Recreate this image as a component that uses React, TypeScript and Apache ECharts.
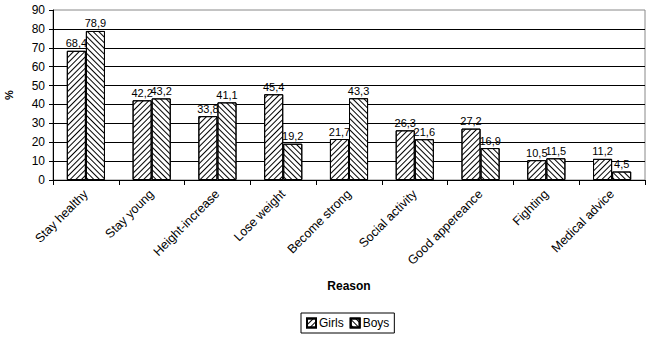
import React, { useEffect, useRef } from "react";
import * as echarts from "echarts";

const categories = [
  "Stay healthy",
  "Stay young",
  "Height-increase",
  "Lose weight",
  "Become strong",
  "Social activity",
  "Good appereance",
  "Fighting",
  "Medical advice",
];
const girls = [68.4, 42.2, 33.8, 45.4, 21.7, 26.3, 27.2, 10.5, 11.2];
const boys = [78.9, 43.2, 41.1, 19.2, 43.3, 21.6, 16.9, 11.5, 4.5];
const yTicks = { min: 0, max: 90, interval: 10 };

const FONT = "'Liberation Sans', Arial, sans-serif";
const fmt = (v: number) => v.toFixed(1).replace(".", ",");

export default function App() {
  const ref = useRef<HTMLDivElement>(null);
  useEffect(() => {
    if (!ref.current) return;
    const chart = echarts.init(ref.current, null, { renderer: "svg" });
    const mkDecal = (rot: number) => ({
      symbol: "rect",
      symbolSize: 1,
      color: "#000",
      dashArrayX: [1, 0],
      dashArrayY: [1, 3],
      rotation: rot,
    });
    const labelCfg = {
      show: true,
      position: "top" as const,
      distance: 2,
      color: "#000",
      fontFamily: FONT,
      fontSize: 11,
      formatter: (p: any) => fmt(p.value),
    };
    chart.setOption({
      animation: false,
      backgroundColor: "#fff",
      textStyle: { fontFamily: FONT, color: "#000" },
      grid: {
        left: 53,
        right: 5,
        top: 10,
        bottom: 159,
        containLabel: false,
        outerBoundsMode: "none",
        show: true,
        borderColor: "#888",
        borderWidth: 1,
      },
      legend: {
        top: 313,
        left: 301,
        icon: "rect",
        itemWidth: 9,
        itemHeight: 9,
        itemGap: 6,
        padding: [4, 5, 4, 5],
        borderColor: "#000",
        borderWidth: 1,
        borderRadius: 0,
        textStyle: { fontFamily: FONT, fontSize: 12, color: "#000", padding: [0, 0, 0, -2] },
        data: ["Girls", "Boys"],
      },
      xAxis: {
        type: "category",
        data: categories,
        name: "Reason",
        nameLocation: "middle",
        nameGap: 100,
        nameTextStyle: { fontFamily: FONT, fontSize: 12, fontWeight: "bold", color: "#000" },
        axisLine: { lineStyle: { color: "#000", width: 1 } },
        axisTick: { show: true, length: 5, lineStyle: { color: "#000" } },
        axisLabel: {
          rotate: 45,
          interval: 0,
          margin: 12,
          fontFamily: FONT,
          fontSize: 12.5,
          color: "#000",
        },
      },
      yAxis: {
        type: "value",
        min: yTicks.min,
        max: yTicks.max,
        interval: yTicks.interval,
        name: "%",
        nameLocation: "middle",
        nameGap: 39,
        nameRotate: 90,
        nameTextStyle: { fontFamily: FONT, fontSize: 11, fontWeight: "bold", color: "#000" },
        axisLine: { show: true, lineStyle: { color: "#000" } },
        axisTick: { show: true, length: 4, lineStyle: { color: "#000" } },
        axisLabel: { fontFamily: FONT, fontSize: 12, color: "#000", margin: 8 },
        splitLine: { show: true, showMaxLine: false, lineStyle: { color: "#000", width: 1 } },
      },
      series: [
        {
          name: "Girls",
          type: "bar",
          data: girls,
          barGap: "0%",
          barCategoryGap: "42%",
          itemStyle: { color: "#fff", borderColor: "#000", borderWidth: 1, decal: mkDecal(-Math.PI / 4) },
          label: labelCfg,
        },
        {
          name: "Boys",
          type: "bar",
          data: boys,
          itemStyle: { color: "#fff", borderColor: "#000", borderWidth: 1, decal: mkDecal(Math.PI / 4) },
          label: labelCfg,
        },
      ],
    });
    return () => chart.dispose();
  }, []);
  return <div ref={ref} style={{ width: 650, height: 339, position: "absolute", left: 0, top: 0 }} />;
}
